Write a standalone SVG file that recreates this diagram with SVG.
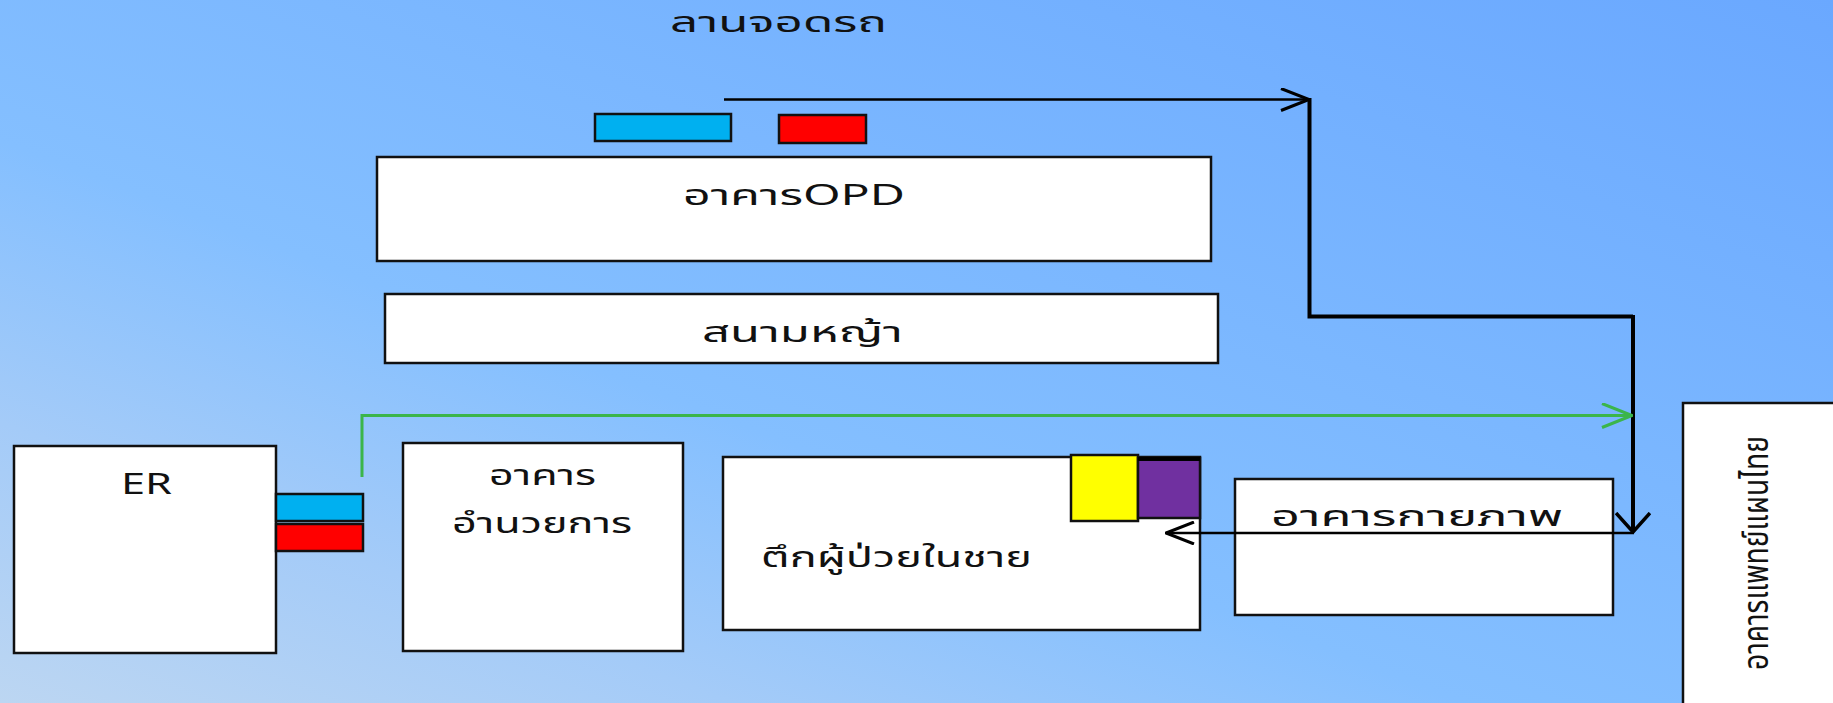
<svg xmlns="http://www.w3.org/2000/svg" width="1833" height="703" viewBox="0 0 1833 703">
  <defs>
    <linearGradient id="bg" x1="0" y1="703" x2="470" y2="-523" gradientUnits="userSpaceOnUse">
      <stop offset="0" stop-color="#BCD6F2"/>
      <stop offset="0.2" stop-color="#A4CBF8"/>
      <stop offset="0.4" stop-color="#84BFFF"/>
      <stop offset="1" stop-color="#6AA8FF"/>
    </linearGradient>
    <marker id="ahB" viewBox="0 0 30 24" refX="29" refY="12" markerWidth="30" markerHeight="24" markerUnits="userSpaceOnUse" orient="auto">
      <path d="M1,1 L29,12 L1,23" fill="none" stroke="#000" stroke-width="3"/>
    </marker>
    <marker id="ahB2" viewBox="0 0 22 36" refX="20" refY="18" markerWidth="22" markerHeight="36" markerUnits="userSpaceOnUse" orient="auto">
      <path d="M1,1 L20,18 L1,35" fill="none" stroke="#000" stroke-width="3.5"/>
    </marker>
    <marker id="ahG" viewBox="0 0 32 26" refX="31" refY="13" markerWidth="32" markerHeight="26" markerUnits="userSpaceOnUse" orient="auto">
      <path d="M1,1 L31,13 L1,25" fill="none" stroke="#3BB54A" stroke-width="3"/>
    </marker>
  </defs>
  <style>
    .box { fill: #fff; stroke: #111; stroke-width: 2.5; }
    .lbl { font-family: "Noto Sans Thai", "Noto Sans", "DejaVu Sans", sans-serif; font-size: 29px; fill: #111; }
    .blue { fill: #00B0F0; stroke: #111; stroke-width: 2.5; }
    .red { fill: #FF0000; stroke: #111; stroke-width: 2.5; }
    .conn { fill: none; stroke: #000; }
  </style>
  <rect x="0" y="0" width="1833" height="703" fill="url(#bg)"/>

  <text class="lbl" x="670" y="32" textLength="217" lengthAdjust="spacingAndGlyphs">ลานจอดรถ</text>

  <g id="parking-blue"><rect class="blue" x="595" y="114" width="136" height="27"/></g>
  <g id="parking-red"><rect class="red" x="779" y="115" width="87" height="28"/></g>

  <g id="opd">
    <rect class="box" x="377" y="157" width="834" height="104"/>
    <text class="lbl" x="683" y="205" textLength="222" lengthAdjust="spacingAndGlyphs">อาคารOPD</text>
  </g>

  <g id="lawn">
    <rect class="box" x="385" y="294" width="833" height="69"/>
    <text class="lbl" x="702" y="342" textLength="201" lengthAdjust="spacingAndGlyphs">สนามหญ้า</text>
  </g>

  <g id="er">
    <rect class="box" x="14" y="446" width="262" height="207"/>
    <text class="lbl" x="121" y="494" textLength="51" lengthAdjust="spacingAndGlyphs">ER</text>
  </g>
  <g id="er-blue"><rect class="blue" x="276" y="494" width="87" height="27"/></g>
  <g id="er-red"><rect class="red" x="276" y="524" width="87" height="27"/></g>

  <g id="admin">
    <rect class="box" x="403" y="443" width="280" height="208"/>
    <text class="lbl" x="489" y="485" textLength="107" lengthAdjust="spacingAndGlyphs">อาคาร</text>
    <text class="lbl" x="452" y="533" textLength="180" lengthAdjust="spacingAndGlyphs">อำนวยการ</text>
  </g>

  <g id="ward">
    <rect class="box" x="723" y="457" width="477" height="173"/>
    <text class="lbl" x="761" y="567" textLength="271" lengthAdjust="spacingAndGlyphs">ตึกผู้ป่วยในชาย</text>
  </g>
  <g id="ward-yellow"><rect x="1071" y="455" width="67" height="66" fill="#FFFF00" stroke="#111" stroke-width="2.5"/></g>
  <g id="ward-purple">
    <rect x="1138" y="458" width="62" height="60" fill="#7030A0" stroke="#111" stroke-width="2.5"/>
    <line x1="1138" y1="459" x2="1200" y2="459" stroke="#000" stroke-width="4"/>
  </g>

  <g id="physio">
    <rect class="box" x="1235" y="479" width="378" height="136"/>
    <text class="lbl" x="1271" y="526" textLength="292" lengthAdjust="spacingAndGlyphs">อาคารกายภาพ</text>
  </g>

  <g id="thai-med">
    <rect class="box" x="1683" y="403" width="160" height="310"/>
    <text class="lbl" style="font-size:35px" transform="translate(1768,670) rotate(-90)" x="0" y="0" textLength="234" lengthAdjust="spacingAndGlyphs">อาคารแพทย์แผนไทย</text>
  </g>

  <g id="connectors">
    <line class="conn" x1="724" y1="99.5" x2="1309" y2="99.5" stroke-width="2.5" marker-end="url(#ahB)"/>
    <path class="conn" d="M1309.5,98 L1309.5,316.5 L1633,316.5" stroke-width="4" stroke-linejoin="miter"/>
    <line class="conn" x1="1633" y1="315" x2="1633" y2="532" stroke-width="4" marker-end="url(#ahB2)"/>
    <line class="conn" x1="1634" y1="533" x2="1166" y2="533" stroke-width="2.5" marker-end="url(#ahB)"/>
    <path d="M362,477 L362,415.5 L1632,415.5" fill="none" stroke="#3BB54A" stroke-width="3" marker-end="url(#ahG)"/>
  </g>
</svg>
